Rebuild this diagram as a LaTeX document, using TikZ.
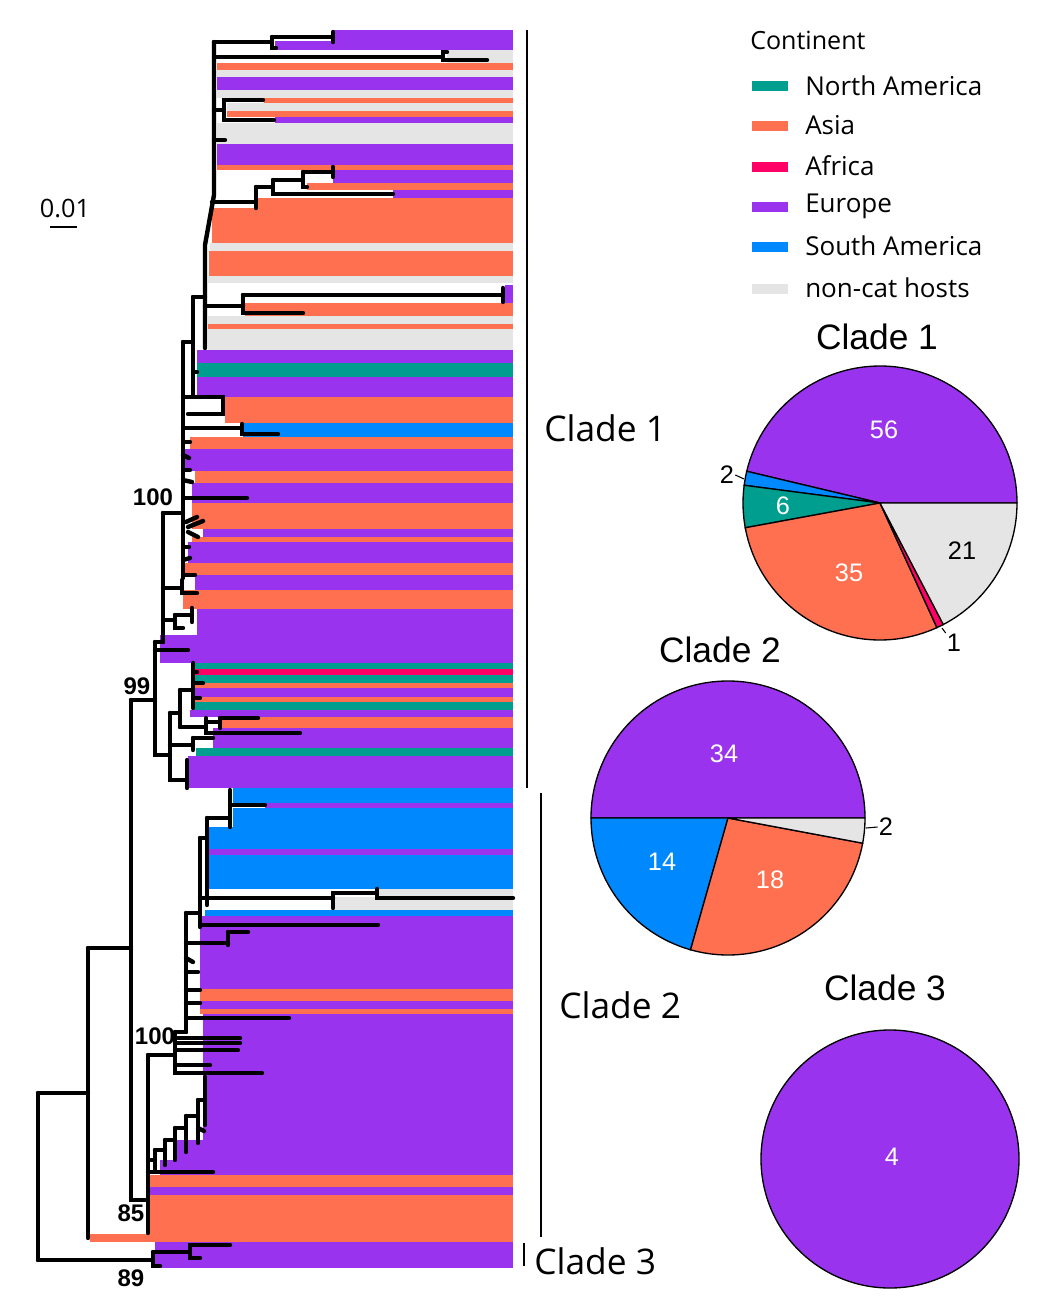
\documentclass[tikz,border=0pt]{standalone}
\usepackage{fontspec}
\setmainfont{Liberation Sans}
\newfontfamily\legfont{Open Sans}
\usepackage{tikz}
\usepackage{xcolor}
\usetikzlibrary{positioning}

\definecolor{nam}{RGB}{0,158,142}
\definecolor{asia}{RGB}{255,112,80}
\definecolor{afr}{RGB}{255,0,102}
\definecolor{eur}{RGB}{153,51,238}
\definecolor{sam}{RGB}{0,136,255}
\definecolor{noncat}{RGB}{229,229,229}

% one coloured tip band: top, bottom, left x, colour
\newcommand{\tipband}[4]{\fill[#4] (#3,#1) rectangle (513,#2);}
% one pie slice: start angle, end angle, radius, colour
\newcommand{\pieslice}[4]{\filldraw[fill=#4,draw=black,line width=1pt] (0,0) -- (#1:#3) arc[start angle=#1,end angle=#2,radius=#3] -- cycle;}

\begin{document}
\begin{tikzpicture}[x=0.75pt,y=0.75pt,yscale=-1,xscale=1,
  tree/.style={line width=3.3pt,line cap=round},
  cladebar/.style={line width=1.5pt},
  cladelab/.style={font=\legfont\fontsize{26.5}{30}\selectfont,anchor=west,inner sep=0.75pt},
  pietitle/.style={font=\fontsize{26.5}{30}\selectfont,inner sep=0.75pt},
  pienum/.style={font=\fontsize{19}{22}\selectfont,inner sep=0.75pt},
  legtext/.style={font=\legfont\fontsize{19.5}{22}\selectfont,anchor=west,inner sep=0.75pt},
  bslab/.style={font=\bfseries\fontsize{18}{20}\selectfont,inner sep=0.75pt},
  swatch/.style={minimum width=27pt,minimum height=7.5pt,inner sep=0pt}]
\useasboundingbox (0,0) rectangle (1048,1306);

%Tip bands: Clade 1
\tipband{30}{41}{333}{eur}
\tipband{41}{50}{275}{eur}
\tipband{50}{63}{447}{noncat}
\tipband{63}{70}{217}{asia}
\tipband{70}{77}{217}{noncat}
\tipband{77}{90}{217}{eur}
\tipband{90}{98}{217}{noncat}
\tipband{98}{103}{264}{asia}
\tipband{103}{111}{227}{noncat}
\tipband{111}{117}{227}{asia}
\tipband{117}{123}{275}{eur}
\tipband{123}{144}{217}{noncat}
\tipband{144}{165}{217}{eur}
\tipband{165}{170}{217}{asia}
\tipband{170}{183}{333}{eur}
\tipband{183}{190}{307}{asia}
\tipband{190}{198}{393}{eur}
\tipband{198}{208}{258}{asia}
\tipband{208}{243}{212}{asia}
\tipband{243}{251}{210}{noncat}
\tipband{251}{276}{209}{asia}
\tipband{276}{283}{208}{noncat}
\tipband{285}{303}{505}{eur}
\tipband{303}{316}{245}{asia}
\tipband{316}{324}{208}{noncat}
\tipband{324}{329}{208}{asia}
\tipband{329}{350}{208}{noncat}
\tipband{350}{363}{197}{eur}
\tipband{363}{377}{197}{nam}
\tipband{377}{397}{197}{eur}
\tipband{397}{423}{225}{asia}
\tipband{423}{437}{243}{sam}
\tipband{437}{449}{190}{asia}
\tipband{449}{471}{185}{eur}
\tipband{471}{483}{195}{asia}
\tipband{483}{503}{192}{eur}
\tipband{503}{529}{192}{asia}
\tipband{529}{537}{203}{eur}
\tipband{537}{542}{192}{asia}
\tipband{542}{563}{188}{eur}
\tipband{563}{575}{185}{asia}
\tipband{575}{590}{195}{eur}
\tipband{590}{609}{183}{asia}
\tipband{609}{635}{197}{eur}
\tipband{635}{663}{160}{eur}
\tipband{663}{669}{193}{nam}
\tipband{669}{675}{193}{afr}
\tipband{675}{683}{193}{nam}
\tipband{683}{688}{193}{asia}
\tipband{688}{697}{193}{eur}
\tipband{697}{702}{193}{asia}
\tipband{702}{710}{193}{nam}
\tipband{710}{717}{190}{eur}
\tipband{717}{728}{220}{asia}
\tipband{728}{748}{213}{eur}
\tipband{748}{756}{196}{nam}
\tipband{756}{788}{188}{eur}
%Tip bands: Clade 2
\tipband{788}{803}{233}{sam}
\tipband{803}{808}{265}{eur}
\tipband{808}{827}{233}{sam}
\tipband{827}{849}{209}{sam}
\tipband{849}{855}{206}{eur}
\tipband{855}{889}{206}{sam}
\tipband{889}{897}{377}{noncat}
\tipband{897}{910}{335}{noncat}
\tipband{910}{916}{205}{sam}
\tipband{916}{989}{200}{eur}
\tipband{989}{1001}{200}{asia}
\tipband{1001}{1009}{200}{eur}
\tipband{1009}{1014}{200}{asia}
\tipband{1014}{1140}{203}{eur}
\tipband{1140}{1160}{177}{eur}
\tipband{1160}{1175}{160}{eur}
\tipband{1175}{1187}{150}{asia}
\tipband{1187}{1195}{150}{eur}
\tipband{1195}{1234}{150}{asia}
\tipband{1234}{1242}{90}{asia}
%Tip bands: Clade 3
\tipband{1242}{1268}{155}{eur}

%Tree: root and Clade 3
\draw [tree] (38,1093) -- (38,1260) ;
\draw [tree] (38,1093) -- (88,1093) ;
\draw [tree] (38,1260) -- (153,1260) ;
\draw [tree] (153,1252) -- (153,1266) -- (160,1266) ;
\draw [tree] (153,1252) -- (190,1252) ;
\draw [tree] (230,1245) -- (190,1245) -- (190,1258) -- (200,1258) ;
%Tree: backbone
\draw [tree] (88,948) -- (88,1238) ;
\draw [tree] (88,948) -- (131,948) ;
\draw [tree] (131,700) -- (131,1200) -- (148,1200) ;
\draw [tree] (131,700) -- (155,700) ;
%Tree: Clade 2, node 85
\draw [tree] (148,1055) -- (148,1233) ;
\draw [tree] (148,1055) -- (175,1055) ;
\draw [tree] (148,1172) -- (213,1172) ;
\draw [tree] (148,1160) -- (155,1160) ; \draw [tree] (155,1150) -- (155,1170) ;
\draw [tree] (155,1150) -- (165,1150) ; \draw [tree] (165,1140) -- (165,1165) ;
\draw [tree] (165,1140) -- (175,1140) ; \draw [tree] (175,1128) -- (175,1160) ;
\draw [tree] (175,1128) -- (186,1128) ; \draw [tree] (186,1116) -- (186,1152) ;
\draw [tree] (186,1116) -- (198,1116) ; \draw [tree] (198,1100) -- (198,1143) ;
\draw [tree] (198,1100) -- (205,1100) ; \draw [tree] (205,1077) -- (205,1125) ;
\draw [tree] (198,1128) -- (204,1131) ;
%Tree: Clade 2, node 100
\draw [tree] (175,1032) -- (175,1073) -- (262,1073) ;
\draw [tree] (175,1065) -- (210,1065) ;
\draw [tree] (175,1050) -- (238,1050) ;
\draw [tree] (175,1043) -- (240,1043) ;
\draw [tree] (178,1038) -- (240,1038) ;
\draw [tree] (175,1032) -- (186,1032) ;
\draw [tree] (186,913) -- (186,1032) ;
\draw [tree] (186,1018) -- (289,1018) ;
\draw [tree] (186,1003) -- (200,1003) ;
\draw [tree] (186,990) -- (200,990) ;
\draw [tree] (186,972) -- (198,972) ;
\draw [tree] (186,958) -- (193,962) ;
\draw [tree] (186,943) -- (228,943) ;
\draw [tree] (228,932) -- (228,945) ;
\draw [tree] (228,932) -- (248,932) ;
\draw [tree] (186,913) -- (200,913) ;
\draw [tree] (200,838) -- (200,927) ;
\draw [tree] (200,925) -- (378,925) ;
\draw [tree] (200,898) -- (333,898) ;
\draw [tree] (333,908) -- (333,893) -- (377,893) ;
\draw [tree] (377,889) -- (377,898) -- (513,898) ;
\draw [tree] (200,838) -- (207,838) ;
\draw [tree] (207,818) -- (207,905) ;
\draw [tree] (207,818) -- (230,818) ;
\draw [tree] (230,790) -- (230,827) ;
\draw [tree] (230,805) -- (265,805) ;
%Tree: Clade 1, node 99
\draw [tree] (155,642) -- (155,755) -- (170,755) ;
\draw [tree] (155,650) -- (188,650) ;
\draw [tree] (170,713) -- (170,780) -- (187,780) ;
\draw [tree] (187,760) -- (187,788) ;
\draw [tree] (170,745) -- (193,745) ;
\draw [tree] (193,738) -- (193,750) ;
\draw [tree] (193,738) -- (213,738) ;
\draw [tree] (170,713) -- (180,713) ;
\draw [tree] (180,690) -- (180,727) ;
\draw [tree] (180,690) -- (193,690) ;
\draw [tree] (193,663) -- (193,708) ;
\draw [tree] (193,672) -- (197,672) ;
\draw [tree] (193,683) -- (203,683) ;
\draw [tree] (193,698) -- (200,698) ;
\draw [tree] (180,727) -- (206,727) ;
\draw [tree] (206,718) -- (206,733) -- (300,733) ;
\draw [tree] (206,722) -- (220,722) ;
\draw [tree] (220,718) -- (220,728) ;
\draw [tree] (220,718) -- (258,718) ;
%Tree: Clade 1, node 100
\draw [tree] (155,642) -- (163,642) ;
\draw [tree] (163,513) -- (163,642) ;
\draw [tree] (163,620) -- (175,620) ;
\draw [tree] (175,615) -- (175,628) -- (183,628) ;
\draw [tree] (175,615) -- (192,615) ;
\draw [tree] (192,608) -- (192,622) ;
\draw [tree] (163,588) -- (182,588) ;
\draw [tree] (182,580) -- (182,593) -- (197,593) ;
\draw [tree] (163,513) -- (183,513) ;
\draw [tree] (183,342) -- (183,578) ;
\draw [tree] (183,498) -- (247,498) ;
\draw [tree] (183,397) -- (223,397) -- (223,414) -- (188,414) ;
\draw [tree] (183,428) -- (242,428) ;
\draw [tree] (242,424) -- (242,434) -- (278,434) ;
\draw [tree] (183,442) -- (190,442) ;
\draw [tree] (183,455) -- (189,458) ;
\draw [tree] (183,470) -- (190,470) ;
\draw [tree] (183,480) -- (192,482) ;
\draw [tree] (186,522) -- (197,517) ;
\draw [tree] (188,527) -- (203,521) ;
\draw [tree] (188,532) -- (198,537) ;
\draw [tree] (183,547) -- (189,547) ;
\draw [tree] (183,560) -- (190,558) ;
\draw [tree] (183,575) -- (195,575) ;
\draw [tree] (183,342) -- (193,342) ;
\draw [tree] (193,297) -- (193,395) ;
\draw [tree] (193,372) -- (197,372) ;
\draw [tree] (193,297) -- (205,297) ;
%Tree: Clade 1, top comb
\draw [tree] (205,348) -- (205,245) -- (214,195) -- (214,42) ;
\draw [tree] (205,306) -- (243,306) ;
\draw [tree] (243,295) -- (243,313) -- (303,313) ;
\draw [tree] (243,295) -- (503,295) ;
\draw [tree] (503,288) -- (503,302) ;
\draw [tree] (212,202) -- (256,202) ;
\draw [tree] (256,187) -- (256,208) ;
\draw [tree] (256,187) -- (273,187) ;
\draw [tree] (273,180) -- (273,194) -- (393,194) ;
\draw [tree] (273,180) -- (303,180) ;
\draw [tree] (303,172) -- (303,187) -- (307,187) ;
\draw [tree] (303,172) -- (333,172) ;
\draw [tree] (333,167) -- (333,177) ;
\draw [tree] (214,140) -- (225,140) ;
\draw [tree] (214,110) -- (224,110) ;
\draw [tree] (263,100) -- (224,100) -- (224,120) -- (274,120) ;
\draw [tree] (214,57) -- (443,57) ;
\draw [tree] (447,52) -- (443,52) -- (443,60) -- (487,60) ;
\draw [tree] (214,42) -- (272,42) ;
\draw [tree] (272,37) -- (272,48) -- (276,48) ;
\draw [tree] (272,37) -- (333,37) ;
\draw [tree] (333,32) -- (333,42) ;

% Bootstrap values
\node [bslab] (bs99) at (137,686) {99};
\node [bslab] (bs100a) at (153,497) {100};
\node [bslab] (bs100b) at (155,1036) {100};
\node [bslab] (bs85) at (131,1213) {85};
\node [bslab] (bs89) at (131,1278) {89};

% Scale bar
\node [font=\legfont\fontsize{19}{22}\selectfont,inner sep=0.75pt] (scalelab) at (65,208) {0.01};
\draw [line width=1.5pt] (50,227) -- (77,227) ;

% Clade bars
\draw [cladebar] (527,30) -- (527,788) ;
\draw [cladebar] (541,793) -- (541,1237) ;
\draw [cladebar] (524,1243) -- (524,1266) ;
\node [cladelab] (cladeA) at (543,428) {Clade 1};
\node [cladelab] (cladeB) at (558,1005) {Clade 2};
\node [cladelab] (cladeC) at (533,1261) {Clade 3};

% Legend
\node [legtext,font=\legfont\fontsize{18.8}{21}\selectfont] (legtitle) at (749,40) {Continent};
\node [swatch,fill=nam] (swNA) at (770,86) {};
\node [swatch,fill=asia] (swAS) at (770,126) {};
\node [swatch,fill=afr] (swAF) at (770,167) {};
\node [swatch,fill=eur] (swEU) at (770,207) {};
\node [swatch,fill=sam] (swSA) at (770,247) {};
\node [swatch,fill=noncat] (swNC) at (770,289) {};
\node [legtext] (legNA) at (804,86) {North America};
\node [legtext] (legAS) at (804,125) {Asia};
\node [legtext] (legAF) at (804,166) {Africa};
\node [legtext] (legEU) at (804,206) {Europe};
\node [legtext] (legSA) at (804,246) {South America};
\node [legtext] (legNC) at (804,288) {non-cat hosts};

% Pie: Clade 1
\node [pietitle] (pieAtitle) at (877,337) {Clade 1};
\begin{scope}[shift={(880,503)},yscale=-1]
\pieslice{0}{166.61}{137}{eur}
\pieslice{166.61}{172.56}{137}{sam}
\pieslice{172.56}{190.41}{137}{nam}
\pieslice{190.41}{294.55}{137}{asia}
\pieslice{294.55}{297.52}{137}{afr}
\pieslice{297.52}{360}{137}{noncat}
\end{scope}
\node [pienum,text=white] (pA56) at (884,430) {56};
\node [pienum,text=white] (pA6) at (783,506) {6};
\node [pienum,text=white] (pA35) at (849,573) {35};
\node [pienum] (pA21) at (962,551) {21};
\node [pienum] (pA2) at (727,475) {2};
\node [pienum] (pA1) at (954,643) {1};
\coordinate (pA2end) at (744,479);
\coordinate (pA1end) at (942,628);
\draw [line width=0.8pt] (pA2.east) -- (pA2end) ;
\draw [line width=0.8pt] (pA1.north west) -- (pA1end) ;

% Pie: Clade 2
\node [pietitle] (pieBtitle) at (720,650) {Clade 2};
\begin{scope}[shift={(728,818)},yscale=-1]
\pieslice{0}{180}{137}{eur}
\pieslice{180}{254.12}{137}{sam}
\pieslice{254.12}{349.41}{137}{asia}
\pieslice{349.41}{360}{137}{noncat}
\end{scope}
\node [pienum,text=white] (pB34) at (724,754) {34};
\node [pienum,text=white] (pB14) at (662,862) {14};
\node [pienum,text=white] (pB18) at (770,880) {18};
\node [pienum] (pB2) at (886,827) {2};
\coordinate (pB2end) at (866,828);
\draw [line width=0.8pt] (pB2.west) -- (pB2end) ;

% Pie: Clade 3
\node [pietitle] (pieCtitle) at (885,988) {Clade 3};
\filldraw [fill=eur,draw=black,line width=1pt] (890,1159) circle [radius=129] ;
\node [pienum,text=white] (pC4) at (892,1157) {4};

\end{tikzpicture}
\end{document}
